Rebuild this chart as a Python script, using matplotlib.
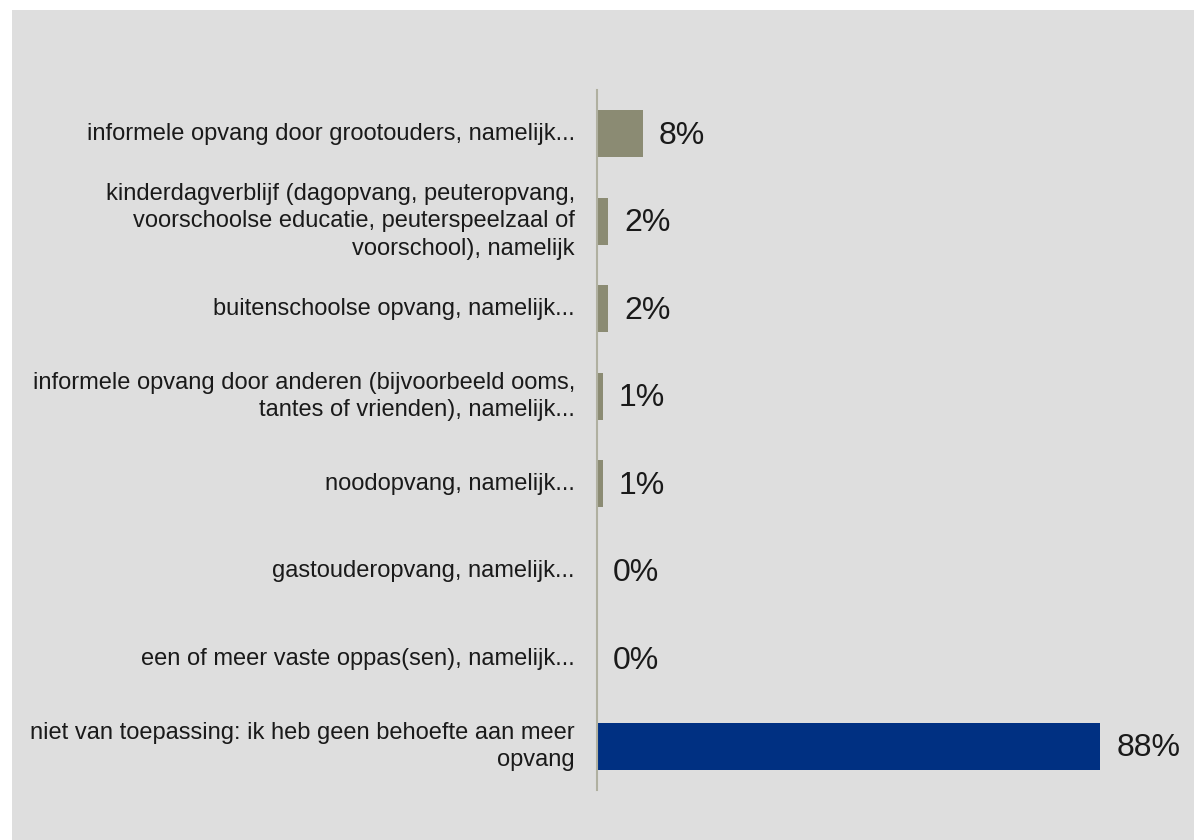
import matplotlib.pyplot as plt
from matplotlib.patches import Rectangle

# categories top to bottom, as shown in the chart
labels = [
    'informele opvang door grootouders, namelijk...',
    'kinderdagverblijf (dagopvang, peuteropvang,\nvoorschoolse educatie, peuterspeelzaal of\nvoorschool), namelijk',
    'buitenschoolse opvang, namelijk...',
    'informele opvang door anderen (bijvoorbeeld ooms,\ntantes of vrienden), namelijk...',
    'noodopvang, namelijk...',
    'gastouderopvang, namelijk...',
    'een of meer vaste oppas(sen), namelijk...',
    'niet van toepassing: ik heb geen behoefte aan meer\nopvang',
]
values = [8, 2, 2, 1, 1, 0, 0, 88]
colors = ['#8b8b73'] * 7 + ['#003082']

plt.rcParams['font.family'] = ['Liberation Sans', 'DejaVu Sans']

W, H = 1194, 840
fig = plt.figure(figsize=(W / 100, H / 100), dpi=100)
fig.patch.set_facecolor('white')
fig.patches.append(Rectangle((12 / W, 0), 1 - 12 / W, 1 - 10 / H,
                             transform=fig.transFigure, facecolor='#dedede',
                             edgecolor='none', zorder=-10))

ax = fig.add_axes([597 / W, 50 / H, 572 / W, 700 / H])
ax.set_facecolor('none')
ypos = list(range(len(values)))
ax.barh(ypos, values, height=0.535, color=colors, align='center')
ax.set_xlim(0, 100)
ax.set_ylim(len(values) - 0.5, -0.5)

for y, v in zip(ypos, values):
    ax.annotate(f'{v}%', (v, y), xytext=(16, -2), textcoords='offset pixels',
                ha='left', va='center', fontsize=23, color='#1a1a1a')
for y, lab in zip(ypos, labels):
    ax.annotate(lab, (0, y), xytext=(-22, 0), textcoords='offset pixels',
                ha='right', va='center', fontsize=17, color='#1a1a1a',
                multialignment='right', linespacing=1.32)

for s in ['top', 'right', 'bottom']:
    ax.spines[s].set_visible(False)
ax.spines['left'].set_color('#b0b0a0')
ax.spines['left'].set_linewidth(1.5)
ax.set_xticks([])
ax.set_yticks([])

fig.savefig('out.png', dpi=100)
